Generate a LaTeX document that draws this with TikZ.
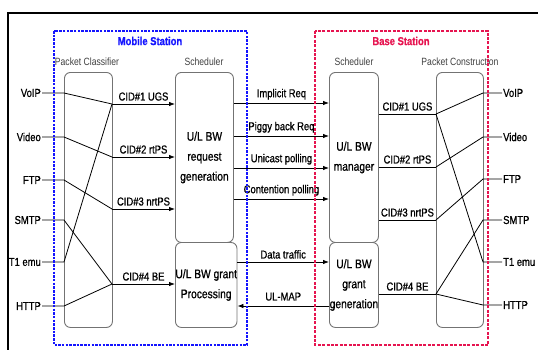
\documentclass[tikz,border=0pt]{standalone}
\usepackage{fontspec}
\setmainfont{Liberation Sans}[FakeStretch=0.82, RawFeature={embolden=0.8}]
\newfontfamily\grpfont{Liberation Sans}[FakeStretch=0.82]
\usetikzlibrary{arrows.meta}
\definecolor{msblue}{RGB}{20,20,255}
\definecolor{bsred}{RGB}{230,20,80}
\begin{document}
\begin{tikzpicture}[x=1pt,y=-1pt,
  lbl/.style={font=\fontsize{11.5}{12}\selectfont, inner sep=1pt},
  grp/.style={font=\grpfont\fontsize{10.5}{12}\selectfont, text=black!75, inner sep=1pt},
  blk/.style={draw=black!55, rounded corners=6pt, line width=0.9pt, align=center,
    font=\fontsize{12.5}{20}\selectfont, inner sep=0pt},
  ln/.style={line width=0.8pt},
  arr/.style={ln, -{Latex[length=6pt,width=4.5pt]}}]
\useasboundingbox (0,0) rectangle (538,349);
% outer frame
\draw[line width=1.8pt] (8,352) -- (8,13) -- (541,13);
\node[font=\bfseries\fontsize{11.5}{12}\selectfont, text=msblue] (mst) at (150,41) {Mobile Station};
\node[font=\bfseries\fontsize{11.5}{12}\selectfont, text=bsred] (bst) at (401,41) {Base Station};
% group labels
\node[grp] (pcl) at (87,62) {Packet Classifier};
\node[grp] (msl1) at (204,62) {Scheduler};
\node[grp] (bsl1) at (354,62) {Scheduler};
\node[grp] (pconl) at (460,62) {Packet Construction};
% blocks
\node[blk, anchor=north west, minimum width=48, minimum height=255] (pc) at (64,72) {};
\node[blk, anchor=north west, minimum width=58, minimum height=170] (msu) at (175,72) {U/L BW\\request\\generation};
\node[blk, anchor=north west, minimum width=58, minimum height=85] (msl) at (175,242) {U/L BW grant\\Processing};
\node[blk, anchor=north west, minimum width=49, minimum height=170] (bsu) at (329,72) {U/L BW\\manager};
\node[blk, anchor=north west, minimum width=49, minimum height=85] (bsl) at (329,242) {U/L BW\\grant\\generation};
\node[blk, anchor=north west, minimum width=47, minimum height=255] (pco) at (436,72) {};
% left application labels
\node[lbl, anchor=east] (lvoip) at (42,93) {VoIP};
\node[lbl, anchor=east] (lvideo) at (42,137) {Video};
\node[lbl, anchor=east] (lftp) at (42,180) {FTP};
\node[lbl, anchor=east] (lsmtp) at (42,220) {SMTP};
\node[lbl, anchor=east] (lt1) at (42,262) {T1 emu};
\node[lbl, anchor=east] (lhttp) at (42,306) {HTTP};
\coordinate (la1) at (64,93);
\coordinate (la2) at (64,137);
\coordinate (la3) at (64,180);
\coordinate (la4) at (64,220);
\coordinate (la5) at (64,262);
\coordinate (la6) at (64,306);
\coordinate (lc1) at (112,104);
\coordinate (lc2) at (112,157);
\coordinate (lc3) at (112,209);
\coordinate (lc4) at (112,284);
\draw[ln] (lvoip) -- (la1) -- (lc1);
\draw[ln] (lvideo) -- (la2) -- (lc2);
\draw[ln] (lftp) -- (la3) -- (lc3);
\draw[ln] (lsmtp) -- (la4) -- (lc4);
\draw[ln] (lt1) -- (la5) -- (lc1);
\draw[ln] (lhttp) -- (la6) -- (lc4);
\draw[arr] (lc1) -- (msu.west |- lc1) node[lbl, midway, above=2pt] {CID\#1 UGS};
\draw[arr] (lc2) -- (msu.west |- lc2) node[lbl, midway, above=2pt] {CID\#2 rtPS};
\draw[arr] (lc3) -- (msu.west |- lc3) node[lbl, midway, above=2pt] {CID\#3 nrtPS};
\draw[arr] (lc4) -- (msl.west |- lc4) node[lbl, midway, above=2pt] {CID\#4 BE};
% middle messages
\coordinate (m1) at (0,103);
\coordinate (m2) at (0,136);
\coordinate (m3) at (0,168);
\coordinate (m4) at (0,199);
\coordinate (m5) at (0,262);
\coordinate (m6) at (0,306);
\draw[arr] (msu.east |- m1) -- (bsu.west |- m1) node[lbl, midway, above=2pt] {Implicit Req};
\draw[arr] (msu.east |- m2) -- (bsu.west |- m2) node[lbl, midway, above=2pt] {Piggy back Req};
\draw[arr] (msu.east |- m3) -- (bsu.west |- m3) node[lbl, midway, above=2pt] {Unicast polling};
\draw[arr] (msu.east |- m4) -- (bsu.west |- m4) node[lbl, midway, above=2pt] {Contention polling};
\draw[arr] (msl.east |- m5) -- (bsl.west |- m5) node[lbl, midway, above=2pt] {Data traffic};
\draw[arr] (bsl.west |- m6) -- (msl.east |- m6) node[lbl, midway, above=4pt] {UL-MAP};
% right side
\coordinate (rc1) at (436,114);
\coordinate (rc2) at (436,167);
\coordinate (rc3) at (436,220);
\coordinate (rc4) at (436,294);
\draw[ln] (bsu.east |- rc1) -- (rc1) node[lbl, midway, above=2pt] {CID\#1 UGS};
\draw[ln] (bsu.east |- rc2) -- (rc2) node[lbl, midway, above=2pt] {CID\#2 rtPS};
\draw[ln] (bsu.east |- rc3) -- (rc3) node[lbl, midway, above=2pt] {CID\#3 nrtPS};
\draw[ln] (bsl.east |- rc4) -- (rc4) node[lbl, midway, above=2pt] {CID\#4 BE};
\node[lbl, anchor=west] (rvoip) at (502,93) {VoIP};
\node[lbl, anchor=west] (rvideo) at (502,137) {Video};
\node[lbl, anchor=west] (rftp) at (502,179) {FTP};
\node[lbl, anchor=west] (rsmtp) at (502,220) {SMTP};
\node[lbl, anchor=west] (rt1) at (502,262) {T1 emu};
\node[lbl, anchor=west] (rhttp) at (502,305) {HTTP};
\coordinate (ra1) at (483,93);
\coordinate (ra2) at (483,137);
\coordinate (ra3) at (483,179);
\coordinate (ra4) at (483,220);
\coordinate (ra5) at (483,262);
\coordinate (ra6) at (483,305);
\draw[ln] (rc1) -- (ra1) -- (rvoip);
\draw[ln] (rc2) -- (ra2) -- (rvideo);
\draw[ln] (rc3) -- (ra3) -- (rftp);
\draw[ln] (rc4) -- (ra4) -- (rsmtp);
\draw[ln] (rc1) -- (ra5) -- (rt1);
\draw[ln] (rc4) -- (ra6) -- (rhttp);
% station boxes (on top)
\draw[msblue, line width=1.2pt, dash pattern=on 2.5pt off 1.2pt] (54,31) rectangle (247,345);
\draw[bsred, line width=1.2pt, dash pattern=on 3pt off 1.4pt] (315,31) rectangle (488,345);
\end{tikzpicture}
\end{document}
